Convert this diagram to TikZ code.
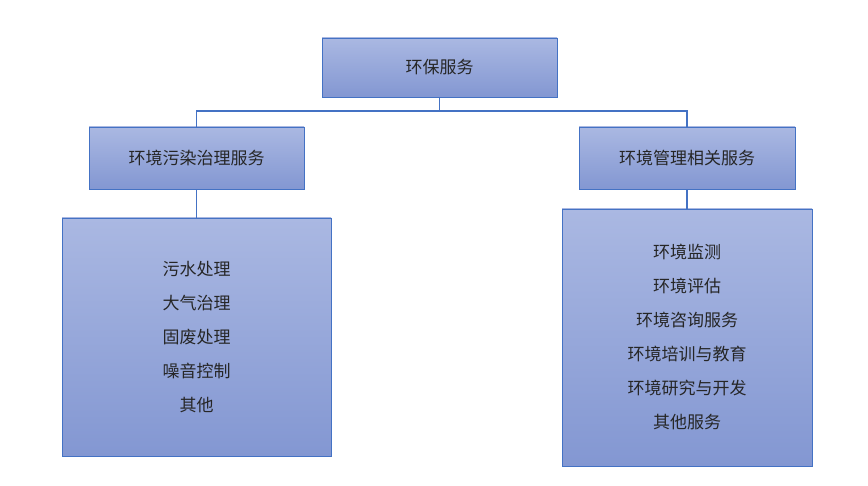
\documentclass[tikz,border=0pt]{standalone}
\usepackage{fontspec}
\setmainfont{Noto Sans CJK SC}
\begin{document}
\begin{tikzpicture}[x=1pt,y=1pt,
 box/.style={draw=black!15!blue!50!cyan!70!black,line width=0.8pt,top color=boxtop,bottom color=boxbot,inner sep=0pt,font=\fontsize{17}{34}\selectfont,align=center,text=black!85},
 link/.style={draw=linkc,line width=1.2pt}]
\definecolor{boxtop}{HTML}{AAB8E2}
\definecolor{boxbot}{HTML}{8397D2}
\definecolor{linkc}{HTML}{4472C4}
\tikzset{box/.append style={draw=linkc}}
\useasboundingbox (0,0) rectangle (868,486);
\node[box,minimum width=235,minimum height=59] (top) at (439.5,418.5) {环保服务};
\node[box,minimum width=215,minimum height=62] (l) at (196.5,328) {环境污染治理服务};
\node[box,minimum width=216,minimum height=62] (r) at (687,328) {环境管理相关服务};
\node[box,minimum width=269,minimum height=238] (lb) at (196.5,149) {污水处理\\大气治理\\固废处理\\噪音控制\\其他};
\node[box,minimum width=250,minimum height=257] (rb) at (687,148.5) {环境监测\\环境评估\\环境咨询服务\\环境培训与教育\\环境研究与开发\\其他服务};
\coordinate (j) at (439.5,375);
\draw[link] (top.south) -- (j);
\draw[link] (l.north) |- (j) -| (r.north);
\draw[link] (l.south) -- (lb.north);
\draw[link] (r.south) -- (rb.north);
\end{tikzpicture}
\end{document}
